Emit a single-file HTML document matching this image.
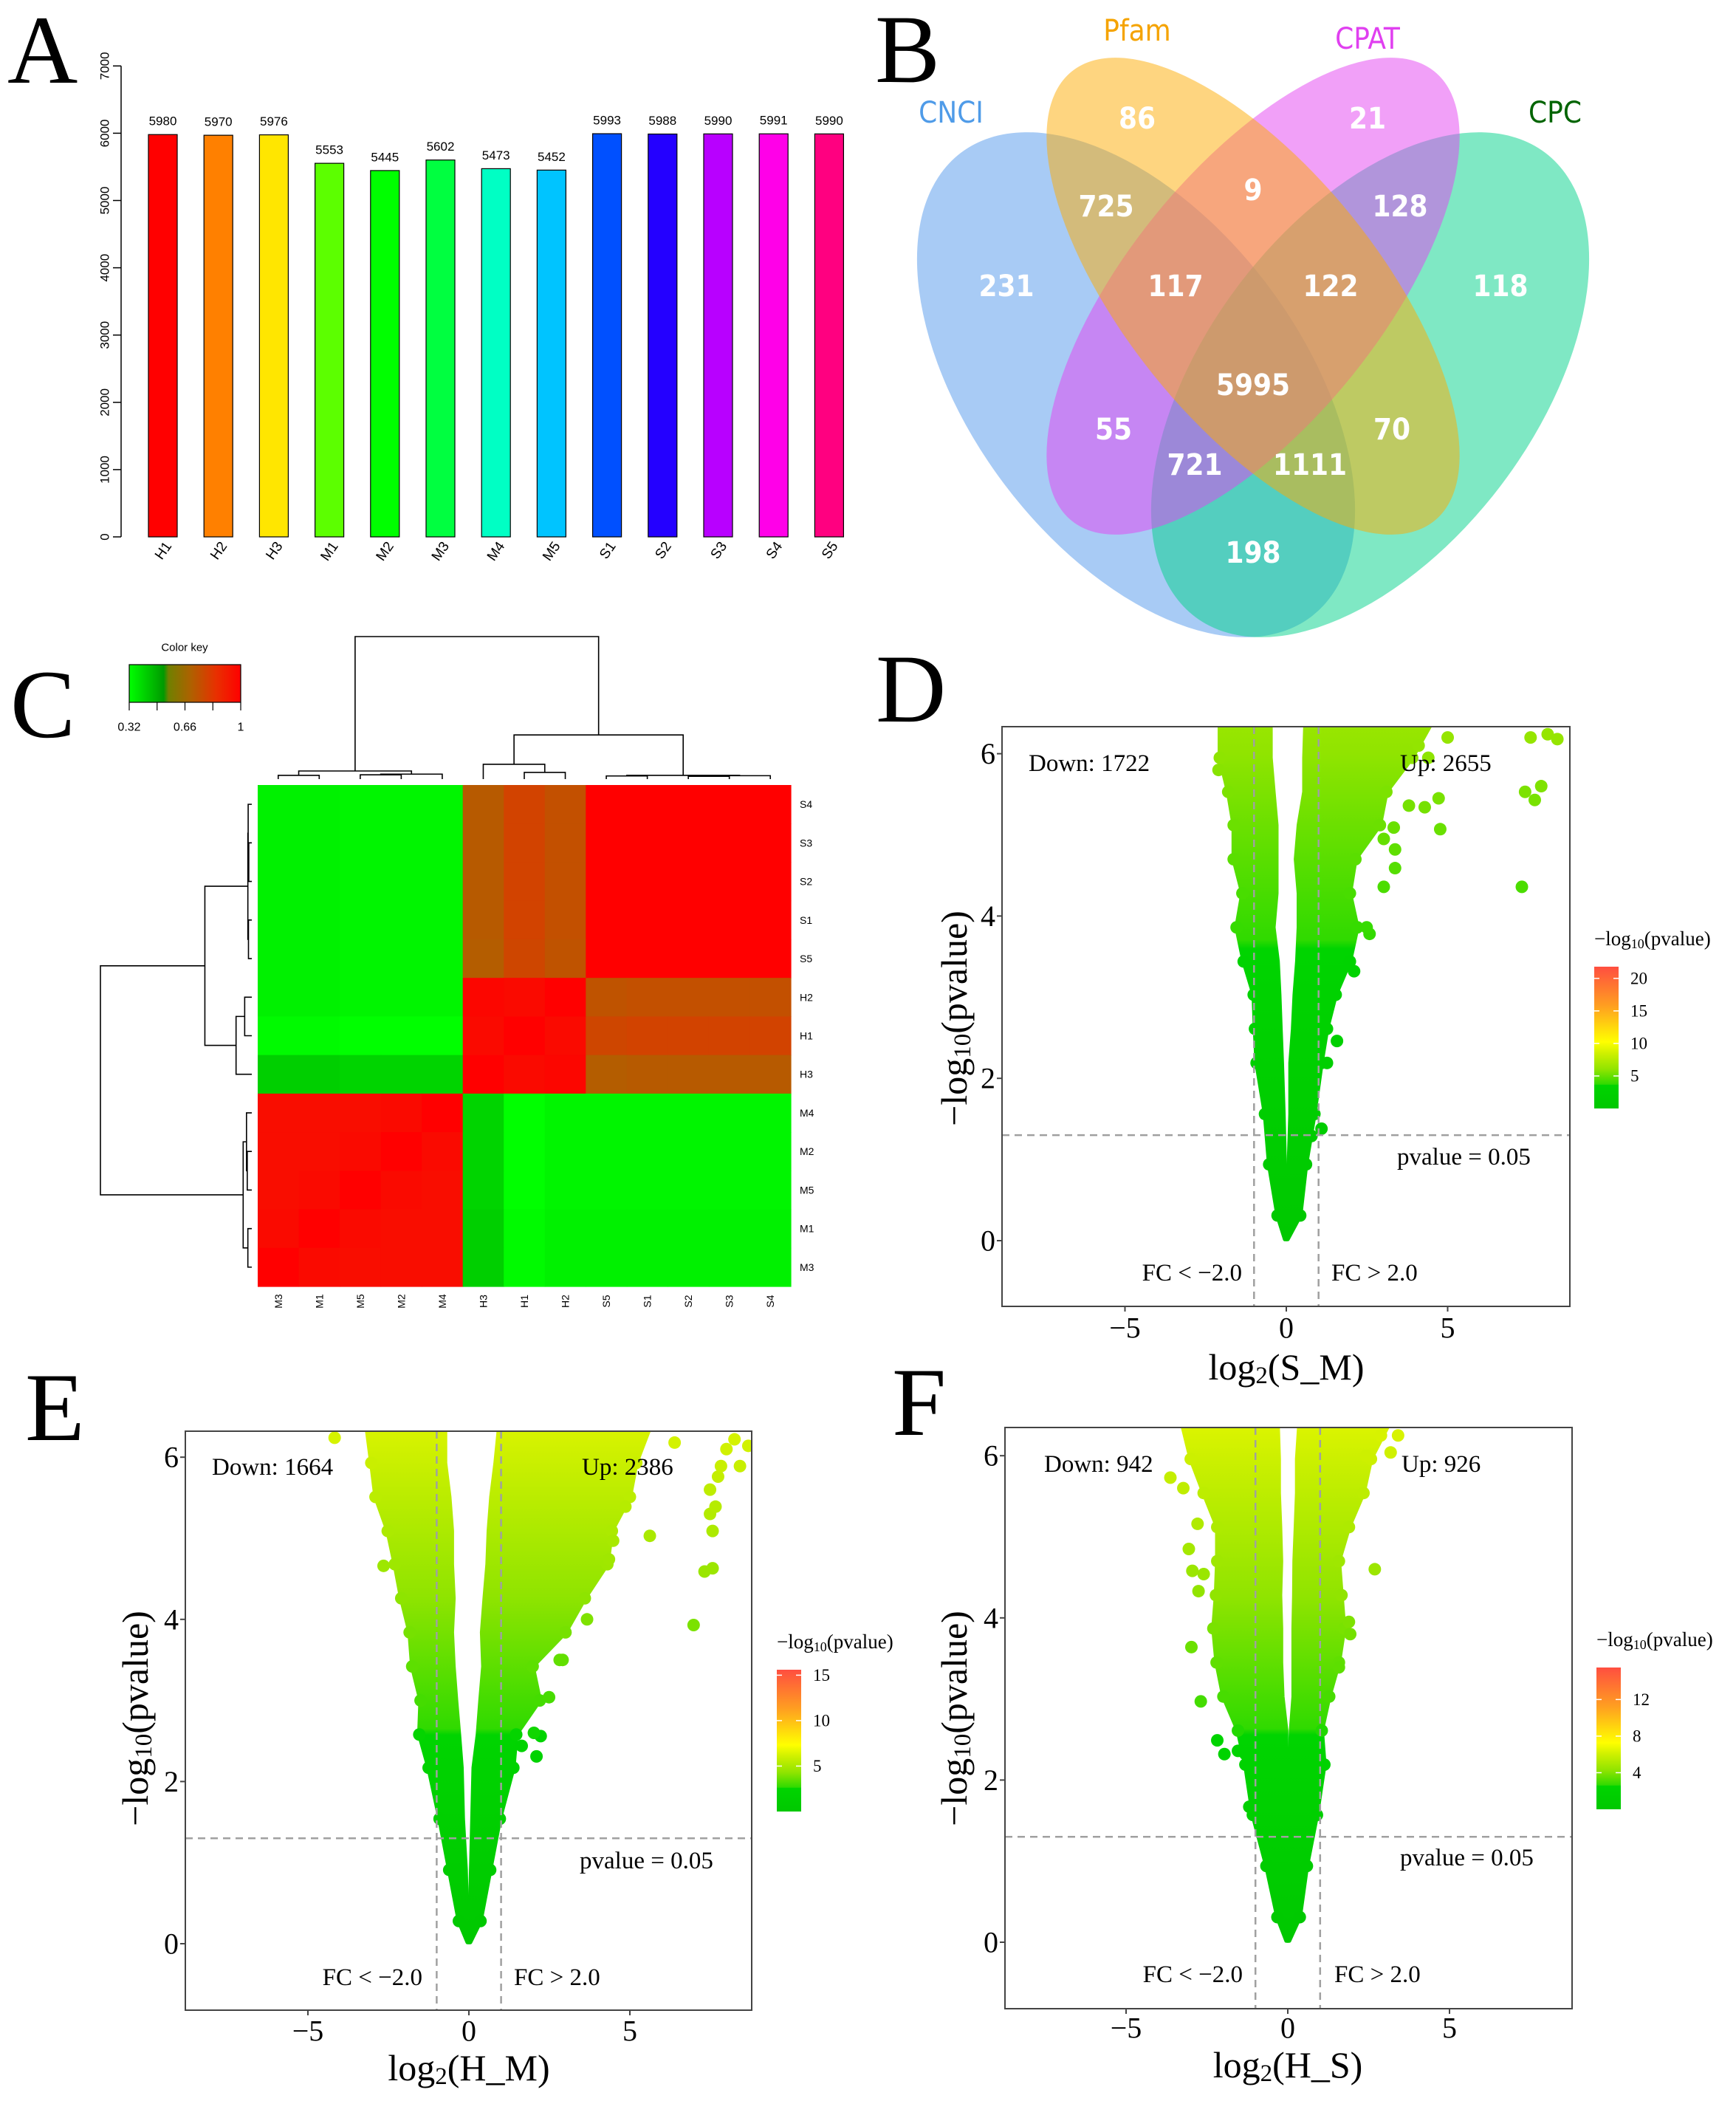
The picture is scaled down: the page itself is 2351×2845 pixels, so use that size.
<!DOCTYPE html>
<html><head><meta charset="utf-8"><style>
html,body{margin:0;padding:0;background:#fff;}
svg{display:block;}
.serif{font-family:"Liberation Serif",serif;}
.sans{font-family:"Liberation Sans",sans-serif;}
.venn{font-family:"DejaVu Sans Condensed","DejaVu Sans",sans-serif;}
</style></head><body>
<svg id="fig" xmlns="http://www.w3.org/2000/svg" width="2351" height="2845" viewBox="0 0 2351 2845">
<rect width="2351" height="2845" fill="#fff"/>
<text class="serif" x="10" y="112" font-size="132">A</text>
<text class="serif" x="1185" y="111" font-size="132">B</text>
<text class="serif" x="14" y="998" font-size="132">C</text>
<text class="serif" x="1186" y="977" font-size="132">D</text>
<text class="serif" x="34" y="1950" font-size="132">E</text>
<text class="serif" x="1208" y="1943" font-size="132">F</text>

<g id="venn">
  <ellipse cx="1538.5" cy="521" rx="223.5" ry="393.6" transform="rotate(-37 1538.5 521)" fill="#5197eb" fill-opacity="0.5"/>
  <ellipse cx="1855.5" cy="521" rx="223.5" ry="393.6" transform="rotate(37 1855.5 521)" fill="#00d189" fill-opacity="0.5"/>
  <ellipse cx="1697" cy="401" rx="172" ry="391" transform="rotate(38.9 1697 401)" fill="#e341f1" fill-opacity="0.5"/>
  <ellipse cx="1697" cy="401" rx="172" ry="391" transform="rotate(-38.9 1697 401)" fill="#fdab01" fill-opacity="0.5"/>
  <g class="venn" font-size="40" text-anchor="middle" dominant-baseline="central">
    <text x="1288" y="153" fill="#4f9be8">CNCI</text>
    <text x="1540" y="42" fill="#f5a300">Pfam</text>
    <text x="1852" y="53" fill="#e040f0">CPAT</text>
    <text x="2106" y="153" fill="#006400">CPC</text>
  </g>
  <g class="venn" font-size="40" font-weight="bold" fill="#fff" text-anchor="middle" dominant-baseline="central">
    <text x="1540" y="161">86</text>
    <text x="1852" y="161">21</text>
    <text x="1498" y="280">725</text>
    <text x="1697" y="258">9</text>
    <text x="1896" y="280">128</text>
    <text x="1363" y="388">231</text>
    <text x="1592" y="388">117</text>
    <text x="1802" y="388">122</text>
    <text x="2032" y="388">118</text>
    <text x="1697" y="522">5995</text>
    <text x="1508" y="582">55</text>
    <text x="1885" y="582">70</text>
    <text x="1618" y="630">721</text>
    <text x="1774" y="630">1111</text>
    <text x="1697" y="749">198</text>
  </g>
</g>
<g id="panelA"></g>
<g id="panelC"></g>
<g id="panelD"></g>
<g id="panelE"></g>
<g id="panelF"></g>
</svg>
<script>
// ---------- Panel A data ----------
const barSamples = ["H1","H2","H3","M1","M2","M3","M4","M5","S1","S2","S3","S4","S5"];
const barValues = [5980,5970,5976,5553,5445,5602,5473,5452,5993,5988,5990,5991,5990];
const barColors = ["#ff0000","#ff8000","#ffe600","#5cff00","#00ff00","#00ff40","#00ffc4","#00c4ff","#0050ff","#2400ff","#b800ff","#ff00e8","#ff0080"];
const barTicks = [0,1000,2000,3000,4000,5000,6000,7000];

// ---------- Panel C data ----------
const hmOrder = ["M3","M1","M5","M2","M4","H3","H1","H2","S5","S1","S2","S3","S4"];
const hmValues = [
 [1.00,0.97,0.96,0.96,0.96,0.42,0.33,0.35,0.35,0.35,0.35,0.35,0.35],
 [0.97,1.00,0.97,0.96,0.96,0.42,0.33,0.35,0.35,0.35,0.35,0.35,0.35],
 [0.96,0.97,1.00,0.97,0.96,0.41,0.32,0.34,0.34,0.34,0.34,0.34,0.34],
 [0.96,0.96,0.97,1.00,0.97,0.41,0.32,0.34,0.34,0.34,0.34,0.34,0.34],
 [0.96,0.96,0.96,0.97,1.00,0.41,0.32,0.34,0.34,0.34,0.34,0.34,0.34],
 [0.42,0.42,0.41,0.41,0.41,1.00,0.97,0.98,0.71,0.72,0.72,0.72,0.72],
 [0.33,0.33,0.32,0.32,0.32,0.97,1.00,0.97,0.78,0.79,0.79,0.79,0.79],
 [0.35,0.35,0.34,0.34,0.34,0.98,0.97,1.00,0.74,0.75,0.75,0.75,0.75],
 [0.35,0.35,0.34,0.34,0.34,0.71,0.78,0.74,1.00,1.00,1.00,1.00,1.00],
 [0.35,0.35,0.34,0.34,0.34,0.72,0.79,0.75,1.00,1.00,1.00,1.00,1.00],
 [0.35,0.35,0.34,0.34,0.34,0.72,0.79,0.75,1.00,1.00,1.00,1.00,1.00],
 [0.35,0.35,0.34,0.34,0.34,0.72,0.79,0.75,1.00,1.00,1.00,1.00,1.00],
 [0.35,0.35,0.34,0.34,0.34,0.72,0.79,0.75,1.00,1.00,1.00,1.00,1.00]];
const mergeA = [0,2,14,13,6,5,8,10,20,19,18,16];
const mergeB = [1,3,4,15,7,17,9,11,12,21,22,23];
const mergeH = [0.026,0.030,0.035,0.057,0.047,0.104,0.022,0.020,0.024,0.026,0.31,1.0];
const keyTicks = [0.32,0.66,1];

// ---------- Volcano data ----------
const dLevels  = [0.02,0.31,0.94,1.56,2.19,2.61,3.03,3.44,3.86,4.28,4.70,5.12,5.53,5.95,6.45];
const dLeftLo  = [-0.04,-0.27,-0.53,-0.66,-0.92,-0.97,-1.01,-1.32,-1.54,-1.36,-1.63,-1.63,-1.80,-2.06,-2.06];
const dLeftHi  = [0.0,-0.05,-0.05,-0.09,-0.14,-0.18,-0.22,-0.27,-0.40,-0.31,-0.31,-0.31,-0.40,-0.49,-0.49];
const dRightLo = [0.0,0.04,0.08,0.13,0.13,0.21,0.26,0.34,0.39,0.39,0.30,0.39,0.56,0.56,0.60];
const dRightHi = [0.04,0.43,0.61,0.87,1.09,1.26,1.53,1.97,2.20,1.97,2.14,2.90,3.10,3.90,4.60];
const dOutX = [-2.1,4.77,7.3,7.4,7.7,7.9,7.57,8.1,8.4,2.58,3.02,3.37,4.72,4.29,3.8,2.1,1.26,1.09,0.78,1.57,3.37,3.33,3.02,2.49,4.4,5.0,4.1];
const dOutY = [5.8,5.07,4.36,5.53,5.43,5.6,6.2,6.24,6.18,3.78,4.36,4.59,5.45,5.34,5.36,3.32,2.19,1.38,1.29,2.46,4.82,5.09,4.95,3.86,5.95,6.2,6.1];
const dTicks = [20,15,10,5];
const eLevels  = [0.02,0.28,0.91,1.54,2.17,2.58,3.0,3.42,3.84,4.26,4.68,5.09,5.51,5.93,6.45];
const eLeftLo  = [-0.04,-0.31,-0.61,-0.91,-1.25,-1.54,-1.5,-1.76,-1.84,-2.1,-2.3,-2.52,-2.9,-3.03,-3.2];
const eLeftHi  = [0,-0.06,-0.1,-0.19,-0.23,-0.31,-0.4,-0.48,-0.53,-0.48,-0.53,-0.53,-0.61,-0.74,-0.74];
const eRightLo = [0,0.03,0.07,0.11,0.15,0.28,0.36,0.45,0.41,0.49,0.58,0.62,0.7,0.83,0.96];
const eRightHi = [0.04,0.36,0.66,0.96,1.38,1.47,2.2,1.98,3.0,3.6,4.3,4.44,5.0,5.2,5.7];
const eOutX = [-2.65,-4.17,6.98,5.62,4.48,4.35,6.39,7.57,7.32,7.57,7.49,7.66,7.74,7.49,7.83,8.42,8.0,8.25,8.68,2.1,2.23,2.02,2.49,2.91,3.67,2.82,1.64,4.86];
const eOutY = [4.66,6.24,3.93,5.03,4.97,4.74,6.18,4.63,4.59,5.09,5.3,5.39,5.76,5.6,5.89,5.89,6.1,6.22,6.14,2.31,2.56,2.6,3.04,3.5,4.0,3.5,2.44,5.39];
const eTicks = [15,10,5];
const fLevels  = [0.02,0.31,0.94,1.57,2.19,2.61,3.03,3.45,3.87,4.28,4.7,5.12,5.54,5.96,6.45];
const fLeftLo  = [-0.04,-0.32,-0.66,-1.08,-1.31,-1.54,-1.99,-2.2,-2.3,-2.22,-2.18,-2.18,-2.6,-3.0,-3.3];
const fLeftHi  = [0,-0.02,-0.02,-0.02,-0.05,-0.05,-0.17,-0.21,-0.21,-0.24,-0.21,-0.24,-0.28,-0.28,-0.32];
const fRightLo = [0,0.02,0.02,0.02,0.06,0.1,0.18,0.18,0.18,0.2,0.21,0.25,0.29,0.29,0.37];
const fRightHi = [0.04,0.37,0.59,0.9,1.13,1.05,1.28,1.58,1.74,1.66,1.58,1.89,2.34,2.57,3.2];
const fOutX = [-3.63,-3.23,-2.79,-3.06,-2.95,-2.6,-2.76,-2.98,-2.69,-2.18,-1.96,-1.54,-1.31,-1.19,2.69,1.89,1.93,1.58,3.18,2.88,3.41,2.42];
const fOutY = [5.73,5.6,5.16,4.85,4.58,4.54,4.33,3.64,2.97,2.49,2.32,2.36,2.32,1.67,4.6,3.95,3.8,3.39,6.04,6.25,6.25,6.0];
const fTicks = [12,8,4];

const NS = "http://www.w3.org/2000/svg";
function mk(tag, parent){ const e = document.createElementNS(NS, tag); parent.appendChild(e); return e; }
function at(e, o){ for (const k in o) e.setAttribute(k, o[k]); return e; }
function hex(c){ return [parseInt(c.substr(1,2),16),parseInt(c.substr(3,2),16),parseInt(c.substr(5,2),16)]; }
function interp(stops, f){
  if (f <= stops[0][0]) return stops[0][1];
  for (let i=1;i<stops.length;i++){
    if (f <= stops[i][0]){
      const t=(f-stops[i-1][0])/(stops[i][0]-stops[i-1][0]);
      const a=hex(stops[i-1][1]), b=hex(stops[i][1]);
      return "rgb("+a.map((v,j)=>Math.round(v+(b[j]-v)*t)).join(",")+")";
    }
  }
  return stops[stops.length-1][1];
}

// ================= Panel A =================
(function(){
  const g = document.getElementById('panelA');
  const y0 = 727, ppu = 91.1/1000, ax = 164, x0 = 201, pitch = 75.2, bw = 39;
  const Y = v => y0 - v*ppu;
  const axis = at(mk('path', g), {d:`M${ax},${Y(0)}V${Y(7000)}`, stroke:'#000', 'stroke-width':1.5, fill:'none'});
  
  
  barTicks.forEach(t=>{
    const tk = at(mk('line', g), {x1:ax-11, x2:ax, y1:Y(t), y2:Y(t), stroke:'#000','stroke-width':1.5});
    
    
    const tl = at(mk('text', g), {x:142, y:Y(t), 'font-size':17, 'text-anchor':'middle', 'dominant-baseline':'central', class:'sans', transform:`rotate(-90 142 ${Y(t)})`});
    tl.textContent = t;
    
    
  });
  barSamples.forEach((s,i)=>{
    const x = x0 + i*pitch, v = barValues[i];
    const r = at(mk('rect', g), {x:x, y:Y(v), width:bw, height:Y(0)-Y(v), fill:barColors[i], stroke:'#000', 'stroke-width':1.2});
    
    
    const vl = at(mk('text', g), {x:x+bw/2, y:Y(v)-18, 'font-size':17, 'text-anchor':'middle', 'dominant-baseline':'central', class:'sans'});
    vl.textContent = v;
    
    
    const cx = x+bw/2+8, cy = 736;
    const xl = at(mk('text', g), {x:cx, y:cy, 'font-size':19, 'text-anchor':'end', 'dominant-baseline':'central', class:'sans', transform:`rotate(-55 ${cx} ${cy})`});
    xl.textContent = s;
    
    
  });
})();

// ================= Panel C =================
(function(){
  const g = document.getElementById('panelC');
  const hx = 349, hy = 1063, cw = (1071-349)/13, ch = (1742-1063)/13;
  const stops = [[0.32,'#00ff00'],[0.53,'#009a00'],[0.56,'#708000'],[0.70,'#b06000'],[0.85,'#e83000'],[1,'#ff0000']];
  const n = hmOrder.length;
  for (let r=0;r<n;r++){
    const i = n-1-r;
    for (let c=0;c<n;c++){
      const cell = at(mk('rect', g), {x:hx+c*cw, y:hy+r*ch, width:cw+0.6, height:ch+0.6, fill:interp(stops, hmValues[i][c])});
      
      
    }
    const rl = at(mk('text', g), {x:1083, y:hy+r*ch+ch/2, 'font-size':14, 'dominant-baseline':'central', class:'sans'});
    rl.textContent = hmOrder[i];
    
    
  }
  for (let c=0;c<n;c++){
    const cx = hx+c*cw+cw/2, cy = 1762;
    const cl = at(mk('text', g), {x:cx, y:cy, 'font-size':14, 'text-anchor':'middle', 'dominant-baseline':'central', class:'sans', transform:`rotate(-90 ${cx} ${cy})`});
    cl.textContent = hmOrder[c];
    
    
  }
  const pos = [], ht = [];
  for (let i=0;i<n;i++){ pos.push(i); ht.push(0); }
  let dTop = '', dLeft = '';
  const TY = h => 1055 - h*193, LX = h => 341 - h*205;
  const colX = p => hx + p*cw + cw/2, rowY = p => hy + (n-1-p)*ch + ch/2;
  for (let m=0;m<mergeA.length;m++){
    const a = mergeA[m], b = mergeB[m], h = mergeH[m];
    dTop += `M${colX(pos[a])},${TY(ht[a])}V${TY(h)}H${colX(pos[b])}V${TY(ht[b])}`;
    dLeft += `M${LX(ht[a])},${rowY(pos[a])}H${LX(h)}V${rowY(pos[b])}H${LX(ht[b])}`;
    pos.push((pos[a]+pos[b])/2); ht.push(h);
  }
  const dt = at(mk('path', g), {d:dTop, stroke:'#000', 'stroke-width':1.6, fill:'none'});
  
  
  const dl = at(mk('path', g), {d:dLeft, stroke:'#000', 'stroke-width':1.6, fill:'none'});
  
  
  const defs = mk('defs', g);
  const lg = at(mk('linearGradient', defs), {id:'keyGrad', x1:0, x2:1, y1:0, y2:0});
  stops.forEach(s=>{ at(mk('stop', lg), {offset:(s[0]-0.32)/0.68, 'stop-color':s[1]}); });
  const kr = at(mk('rect', g), {x:175, y:900, width:151, height:51, fill:'url(#keyGrad)', stroke:'#000', 'stroke-width':1.2});
  
  
  const kt = at(mk('text', g), {x:250, y:877, 'font-size':15, 'text-anchor':'middle', 'dominant-baseline':'central', class:'sans'});
  kt.textContent = 'Color key';
  
  
  [0.32,0.49,0.66,0.83,1].forEach(v=>{
    const x = 175 + (v-0.32)/0.68*151;
    const tk = at(mk('line', g), {x1:x, x2:x, y1:951, y2:962, stroke:'#000', 'stroke-width':1.2});
    
    
  });
  keyTicks.forEach(v=>{
    const x = 175 + (v-0.32)/0.68*151;
    const tl = at(mk('text', g), {x:x, y:985, 'font-size':16, 'text-anchor':'middle', 'dominant-baseline':'central', class:'sans'});
    tl.textContent = v;
    
    
  });
})();

// ================= Volcano =================
const vStops = [[0,'#00c800'],[0.165,'#00d400'],[0.17,'#30da00'],[0.275,'#90e400'],[0.385,'#ccf000'],[0.47,'#ffff00'],[0.72,'#ffa020'],[1,'#ff4e40']];
function volcano(id, c, levels, lLo, lHi, rLo, rHi, outX, outY, ticks){
  const g = document.getElementById(id);
  const X = v => c.x0 + v*c.xs, Y = v => c.y0 - v*c.ys;
  const defs = mk('defs', g);
  const cp = mk('clipPath', defs); cp.setAttribute('id', id+'clip');
  at(mk('rect', cp), {x:c.bx, y:c.by, width:c.bw, height:c.bh});
  const gr = at(mk('linearGradient', defs), {id:id+'grad', gradientUnits:'userSpaceOnUse', x1:0, x2:0, y1:Y(0), y2:Y(c.max)});
  vStops.forEach(s=>{ at(mk('stop', gr), {offset:s[0], 'stop-color':s[1]}); });
  const lgr = at(mk('linearGradient', defs), {id:id+'lgrad', x1:0, x2:0, y1:1, y2:0});
  vStops.forEach(s=>{ at(mk('stop', lgr), {offset:s[0], 'stop-color':s[1]}); });
  const plot = mk('g', g); plot.setAttribute('clip-path', `url(#${id}clip)`);
  const arm = (lo, hi) => {
    let pts = [];
    for (let i=0;i<levels.length;i++) pts.push(X(lo[i]).toFixed(1)+','+Y(levels[i]).toFixed(1));
    for (let i=levels.length-1;i>=0;i--) pts.push(X(hi[i]).toFixed(1)+','+Y(levels[i]).toFixed(1));
    return pts.join(' ');
  };
  const la = at(mk('polygon', plot), {points:arm(lLo,lHi), fill:`url(#${id}grad)`, stroke:`url(#${id}grad)`, 'stroke-width':6, 'stroke-linejoin':'round'});
  
  
  const ra = at(mk('polygon', plot), {points:arm(rLo,rHi), fill:`url(#${id}grad)`, stroke:`url(#${id}grad)`, 'stroke-width':6, 'stroke-linejoin':'round'});
  
  
  // edge dots on band edges
  [lLo, rHi].forEach(arr=>{
    for (let i=1;i<levels.length;i++){
      const d = at(mk('circle', plot), {cx:X(arr[i]), cy:Y(levels[i]), r:8.5, fill:interp(vStops, levels[i]/c.max)});
      
      
    }
  });
  for (let i=0;i<outX.length;i++){
    const p = at(mk('circle', plot), {cx:X(outX[i]), cy:Y(outY[i]), r:8.5, fill:interp(vStops, outY[i]/c.max)});
    
    
  }
  const hl = at(mk('line', g), {x1:c.bx, x2:c.bx+c.bw, y1:Y(1.3), y2:Y(1.3), stroke:'#a0a0a0', 'stroke-width':2.5, 'stroke-dasharray':'10,7'});
  
  
  [-1,1].forEach(v=>{
    const vl = at(mk('line', g), {x1:X(v), x2:X(v), y1:c.by, y2:c.by+c.bh, stroke:'#a0a0a0', 'stroke-width':2.5, 'stroke-dasharray':'10,7'});
    
    
  });
  const box = at(mk('rect', g), {x:c.bx, y:c.by, width:c.bw, height:c.bh, fill:'none', stroke:'#444', 'stroke-width':2});
  
  
  [0,2,4,6].forEach(t=>{
    const tk = at(mk('line', g), {x1:c.bx-7, x2:c.bx, y1:Y(t), y2:Y(t), stroke:'#444', 'stroke-width':2});
    
    
    const tl = at(mk('text', g), {x:c.bx-9, y:Y(t), 'font-size':40, 'text-anchor':'end', 'dominant-baseline':'central', class:'serif'});
    tl.textContent = t;
    
    
  });
  [-5,0,5].forEach(t=>{
    const tk = at(mk('line', g), {x1:X(t), x2:X(t), y1:c.by+c.bh, y2:c.by+c.bh+7, stroke:'#444', 'stroke-width':2});
    
    
    const tl = at(mk('text', g), {x:X(t), y:c.xty, 'font-size':40, 'text-anchor':'middle', 'dominant-baseline':'central', class:'serif'});
    tl.textContent = t<0 ? '\u2212'+(-t) : t;
    
    
  });
  const xt = at(mk('text', g), {x:c.x0, y:c.xtitle, 'font-size':50, 'text-anchor':'middle', 'dominant-baseline':'central', class:'serif'});
  xt.innerHTML = 'log<tspan font-size="33" dy="12">2</tspan><tspan dy="-12">(' + c.name + ')</tspan>';
  
  
  const yt = at(mk('text', g), {x:c.ytx, y:c.yty, 'font-size':50, 'text-anchor':'middle', 'dominant-baseline':'central', class:'serif', transform:`rotate(-90 ${c.ytx} ${c.yty})`});
  yt.innerHTML = '\u2212log<tspan font-size="33" dy="12">10</tspan><tspan dy="-12">(pvalue)</tspan>';
  
  
  const txt = (s, x, y, anchor) => {
    const t = at(mk('text', g), {x:x, y:y, 'font-size':33, 'text-anchor':anchor, 'dominant-baseline':'central', class:'serif'});
    t.textContent = s;
    return t;
  };
  const t1 = txt('Down: '+c.down, c.downX, c.textY, 'start');
  
  
  const t2 = txt('Up: '+c.up, c.upX, c.textY, 'start');
  
  
  const t3 = txt('pvalue = 0.05', c.pvX, c.pvY, 'start');
  
  
  const t4 = txt('FC < \u22122.0', c.fcLX, c.fcY, 'end');
  
  
  const t5 = txt('FC > 2.0', c.fcRX, c.fcY, 'start');
  
  
  const lt = at(mk('text', g), {x:c.lx, y:c.lty, 'font-size':27, 'dominant-baseline':'central', class:'serif'});
  lt.innerHTML = '\u2212log<tspan font-size="18" dy="7">10</tspan><tspan dy="-7">(pvalue)</tspan>';
  
  
  const lb = at(mk('rect', g), {x:c.lx, y:c.ly, width:33, height:c.lh, fill:`url(#${id}lgrad)`});
  
  
  ticks.forEach(t=>{
    const y = c.ly + c.lh - t/c.max*c.lh;
    const tk1 = at(mk('line', g), {x1:c.lx, x2:c.lx+7, y1:y, y2:y, stroke:'#fff', 'stroke-width':1.5});
    
    
    const tk2 = at(mk('line', g), {x1:c.lx+26, x2:c.lx+33, y1:y, y2:y, stroke:'#fff', 'stroke-width':1.5});
    
    
    const tl = at(mk('text', g), {x:c.lx+49, y:y, 'font-size':23, 'dominant-baseline':'central', class:'serif'});
    tl.textContent = t;
    
    
  });
}
volcano('panelD', {bx:1357,by:984,bw:769,bh:785,x0:1742,xs:43.7,y0:1680,ys:109.9,max:21.8,xty:1798,xtitle:1851,ytx:1292,yty:1379,name:'S_M',down:1722,up:2655,downX:1393,upX:1896,textY:1034,pvX:1892,pvY:1567,fcLX:1682,fcRX:1803,fcY:1724,lx:2159,lty:1271,ly:1309,lh:192}, dLevels,dLeftLo,dLeftHi,dRightLo,dRightHi,dOutX,dOutY,dTicks);
volcano('panelE', {bx:251,by:1938,bw:767,bh:784,x0:635,xs:43.6,y0:2632,ys:109.8,max:15.6,xty:2750,xtitle:2800,ytx:183,yty:2327,name:'H_M',down:1664,up:2386,downX:287,upX:788,textY:1987,pvX:785,pvY:2520,fcLX:572,fcRX:696,fcY:2678,lx:1052,lty:2223,ly:2261,lh:192}, eLevels,eLeftLo,eLeftHi,eRightLo,eRightHi,eOutX,eOutY,eTicks);
volcano('panelF', {bx:1361,by:1933,bw:768,bh:787,x0:1744,xs:43.8,y0:2630,ys:109.8,max:15.5,xty:2746,xtitle:2796,ytx:1292,yty:2327,name:'H_S',down:942,up:926,downX:1414,upX:1898,textY:1983,pvX:1896,pvY:2516,fcLX:1683,fcRX:1807,fcY:2674,lx:2162,lty:2220,ly:2258,lh:192}, fLevels,fLeftLo,fLeftHi,fRightLo,fRightHi,fOutX,fOutY,fTicks);
</script>
</body></html>
